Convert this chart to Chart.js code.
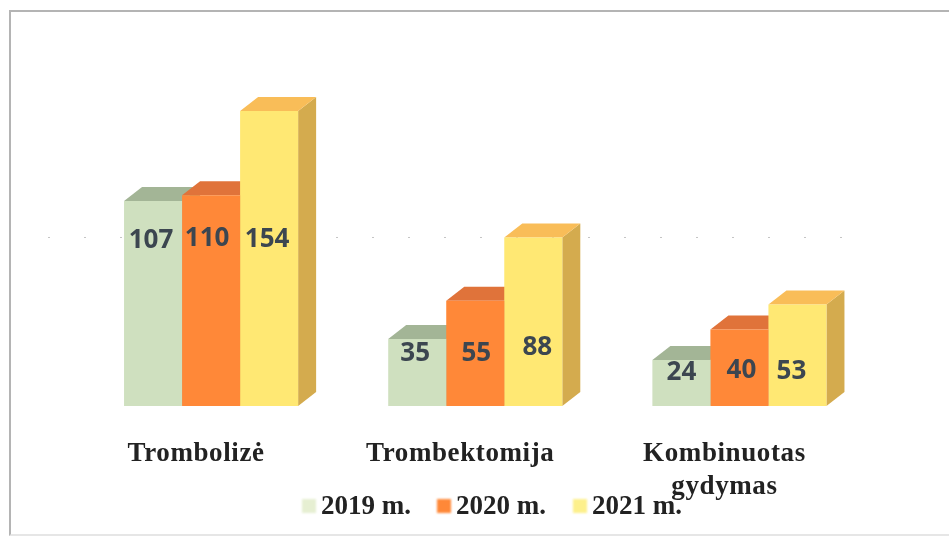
<!DOCTYPE html>
<html>
<head>
<meta charset="utf-8">
<style>
  html, body { margin: 0; padding: 0; background: #fff; }
  #wrap { position: relative; width: 949px; height: 537px; overflow: hidden; }
  #chart { position: absolute; left: 0; top: 0; filter: blur(0.5px); }
  #frame { position: absolute; left: 9px; top: 10px; width: 950px; height: 522px; border: 2px solid #b4b4b4; border-bottom-color: #e6e6e6; pointer-events: none; }
  #legend { position: absolute; left: 0; top: 491px; font: bold 27px "Liberation Serif", serif; color: #222; }
  #legend span { position: absolute; white-space: nowrap; line-height: 28px; }
  #legend i { position: absolute; width: 14px; height: 14px; top: 8px; filter: blur(1px); }
</style>
</head>
<body>
<div id="wrap">
  <canvas id="chart" width="949" height="537"></canvas>
  <div id="frame"></div>
  <div id="legend"></div>
</div>
<script src="https://cdn.jsdelivr.net/npm/chart.js@4"></script>
<script>
const categories = ["Trombolizė", "Trombektomija", ["Kombinuotas", "gydymas"]]
const seriesNames = ["2019 m.", "2020 m.", "2021 m."]
const values2019 = [107, 35, 24]
const values2020 = [110, 55, 40]
const values2021 = [154, 88, 53]

const frontColors = ["#cfe0bf", "#ff8838", "#ffe873"]
const topColors = ["#a3b596", "#e0733a", "#f9bd58"]
const sideColors = ["#8f9f84", "#c9662f", "#d4ab4e"]
const legendColors = ["#e6efd2", "#ff8838", "#fdf08c"]
// the labels sit where they were placed by hand in the original, px from the bar top and centre
const labelOffsets = [[39, 15, 13], [43, 53, 41], [129, 110, 67]]
const labelNudges = [[-2, -2, 0], [-4, 1, 2], [-2, 4, -6]]
// what is left of the scanned gridline
const faintGridValue = 88

const depthX = 18
const depthY = 14

// side and top faces, taken from the bars the library has laid out
const bars3d = {
    id: "bars3d",
    beforeDraw(chart) {
        chart.ctx.letterSpacing = "0.6px" // axis labels are spaced out in the original
    },
    beforeDatasetsDraw(chart) {
        const ctx = chart.ctx
        const gridY = chart.scales.y.getPixelForValue(faintGridValue)
        ctx.save()
        ctx.strokeStyle = "#c4c4c4"
        ctx.setLineDash([2, 34])
        ctx.beginPath()
        ctx.moveTo(48, gridY)
        ctx.lineTo(850, gridY)
        ctx.stroke()
        ctx.restore()
        chart.data.datasets.forEach((ds, d) => {
            chart.getDatasetMeta(d).data.forEach(bar => {
                const left = bar.x - bar.width / 2
                const right = bar.x + bar.width / 2
                ctx.fillStyle = sideColors[d]
                ctx.beginPath()
                ctx.moveTo(right, bar.y)
                ctx.lineTo(right + depthX, bar.y - depthY)
                ctx.lineTo(right + depthX, bar.base - depthY)
                ctx.lineTo(right, bar.base)
                ctx.closePath()
                ctx.fill()
                ctx.fillStyle = topColors[d]
                ctx.beginPath()
                ctx.moveTo(left, bar.y)
                ctx.lineTo(left + depthX, bar.y - depthY)
                ctx.lineTo(right + depthX, bar.y - depthY)
                ctx.lineTo(right, bar.y)
                ctx.closePath()
                ctx.fill()
            })
        })
    },
    afterDatasetsDraw(chart) {
        const ctx = chart.ctx
        ctx.save()
        ctx.letterSpacing = "0px"
        ctx.font = 'bold 26px "Open Sans", sans-serif'
        ctx.fillStyle = "#3c4650"
        ctx.textAlign = "center"
        ctx.textBaseline = "middle"
        chart.data.datasets.forEach((ds, d) => {
            chart.getDatasetMeta(d).data.forEach((bar, i) => {
                ctx.fillText(ds.data[i], bar.x + labelNudges[d][i], bar.y + labelOffsets[d][i])
            })
        })
        ctx.restore()
    }
}

const ctx = document.getElementById("chart").getContext("2d")
new Chart(ctx, {
    type: "bar",
    data: {
        labels: categories,
        datasets: [
            { label: seriesNames[0], data: values2019, backgroundColor: frontColors[0] },
            { label: seriesNames[1], data: values2020, backgroundColor: frontColors[1] },
            { label: seriesNames[2], data: values2021, backgroundColor: frontColors[2] }
        ]
    },
    options: {
        responsive: false,
        animation: false,
        categoryPercentage: 0.659,
        barPercentage: 1,
        layout: { padding: { left: 79, right: 77.5, top: 23, bottom: 31 } },
        plugins: { legend: { display: false }, tooltip: { enabled: false } },
        scales: {
            y: { display: false, min: 0, max: 200 },
            x: {
                grid: { display: false },
                border: { display: false },
                afterFit: scale => { scale.height = 100 },
                ticks: {
                    padding: 24,
                    labelOffset: -15,
                    maxRotation: 0,
                    color: "#222",
                    font: { family: '"Liberation Serif", serif', weight: "bold", size: 27, lineHeight: 1.2 }
                }
            }
        }
    },
    plugins: [bars3d]
})

// legend as plain text under the axis, it overlaps the last label like the original
const legendX = [302, 437, 573]
const legend = document.getElementById("legend")
seriesNames.forEach((name, i) => {
    const swatch = document.createElement("i")
    swatch.style.left = legendX[i] + "px"
    swatch.style.background = legendColors[i]
    legend.appendChild(swatch)
    const text = document.createElement("span")
    text.style.left = (legendX[i] + 19) + "px"
    text.textContent = name
    legend.appendChild(text)
})
</script>
</body>
</html>
